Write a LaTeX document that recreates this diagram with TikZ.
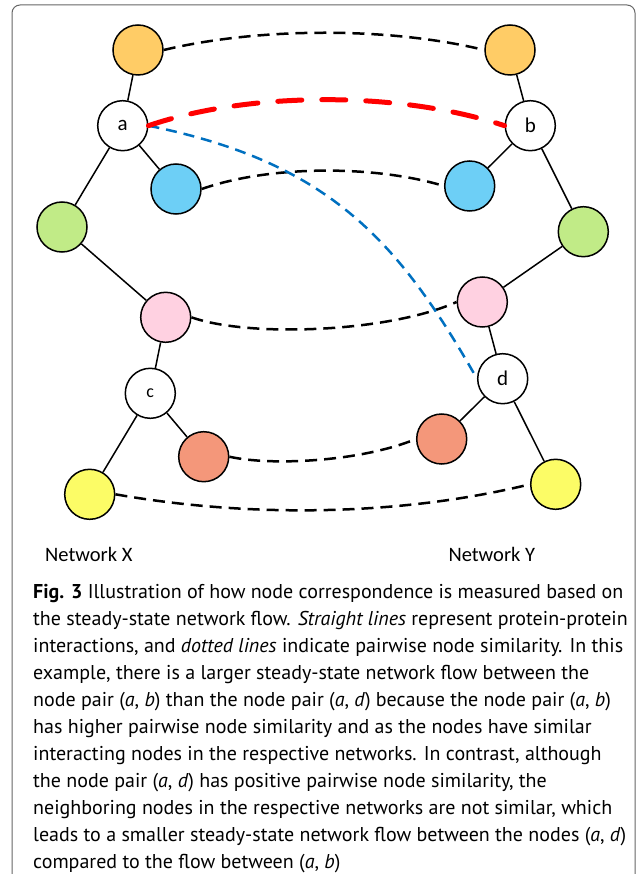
\documentclass[tikz,border=0pt]{standalone}
\usepackage{fontspec}
\setmainfont{Carlito}
\newfontfamily\capfont{PT Sans}
\definecolor{corange}{HTML}{FFCC66}
\definecolor{cblue}{HTML}{6DCFF6}
\definecolor{cgreen}{HTML}{C1EB87}
\definecolor{cpink}{HTML}{FFD1E1}
\definecolor{csalmon}{HTML}{F4977A}
\definecolor{cyellow}{HTML}{FCFC66}
\definecolor{cred}{HTML}{FF0000}
\definecolor{cdblue}{HTML}{0070C0}
\definecolor{frame}{HTML}{666666}
\begin{document}
\begin{tikzpicture}[x=1pt,y=-1pt,
  nd/.style={circle,draw=black,line width=1.5pt,minimum size=50pt,inner sep=0pt,font=\fontsize{21}{21}\selectfont},
  lk/.style={line width=1.5pt},
  sim/.style={line width=2.5pt,dash pattern=on 12pt off 7pt},
  simred/.style={cred,line width=5pt,line cap=round,dash pattern=on 24pt off 20pt},
  simblue/.style={cdblue,line width=2.5pt,dash pattern=on 11pt off 7pt},
  netlab/.style={anchor=base west,inner sep=0pt,font=\fontsize{20.5}{20.5}\selectfont},
  capline/.style={anchor=base west,inner sep=0pt,font=\capfont\fontsize{20}{27}\selectfont}]
\clip (0,0) rectangle (636,874);
\draw[frame,line width=1pt,rounded corners=8pt] (12,5) rectangle (635,910);
% left network
\node[nd,fill=corange] (lo) at (138,50) {};
\node[nd,fill=white] (a) at (122.7,125.7) {a};
\node[nd,fill=cblue] (lb) at (176,189) {};
\node[nd,fill=cgreen] (lg) at (62,227) {};
\node[nd,fill=cpink] (lp) at (165.7,317.3) {};
\node[nd,fill=white,font=\fontsize{18}{18}\selectfont] (c) at (150.3,393.3) {c};
\node[nd,fill=csalmon] (ls) at (203.7,456.7) {};
\node[nd,fill=cyellow] (ly) at (89.7,494.3) {};
% right network
\node[nd,fill=corange] (ro) at (510,50) {};
\node[nd,fill=white] (b) at (530.3,125.7) {b};
\node[nd,fill=cblue] (rb) at (469.7,186) {};
\node[nd,fill=cgreen] (rg) at (583.3,231.7) {};
\node[nd,fill=cpink] (rp) at (482.3,302) {};
\node[nd,fill=white] (d) at (502.7,378.7) {d};
\node[nd,fill=csalmon] (rs) at (441.7,439) {};
\node[nd,fill=cyellow] (ry) at (555.7,484.3) {};
% interactions
\draw[lk] (lo) -- (a);
\draw[lk] (a) -- (lb);
\draw[lk] (a) -- (lg);
\draw[lk] (lg) -- (lp);
\draw[lk] (lp) -- (c);
\draw[lk] (c) -- (ls);
\draw[lk] (c) -- (ly);
\draw[lk] (ro) -- (b);
\draw[lk] (b) -- (rb);
\draw[lk] (b) -- (rg);
\draw[lk] (rg) -- (rp);
\draw[lk] (rp) -- (d);
\draw[lk] (d) -- (rs);
\draw[lk] (d) -- (ry);
% similarities
\draw[sim] (lo.east) .. controls (260,27) and (390,27) .. (ro.west);
\draw[sim] (lb.east) .. controls (270,165) and (375,165) .. (rb.west);
\draw[sim] (lp.east) .. controls (250,338) and (390,332) .. (rp.west);
\draw[sim] (ls.east) .. controls (270,466) and (360,462) .. (rs.west);
\draw[sim] (ly.east) .. controls (250,518) and (400,516) .. (ry.west);
\draw[simblue] (a.east) .. controls (327,162) and (397,238) .. (d.west);
\draw[simred] (a.east) .. controls (250,91) and (400,91) .. (b.west);
% labels
\node[netlab] (nx) at (45,561.7) {Network X};
\node[netlab] (ny) at (448.3,561.7) {Network Y};
% caption
\node[capline] (c1) at (33,598) {\textbf{Fig. 3} Illustration of how node correspondence is measured based on};
\node[capline] (c2) at (33,625) {the steady-state network flow. \textit{Straight lines} represent protein-protein};
\node[capline] (c3) at (33,652) {interactions, and \textit{dotted lines} indicate pairwise node similarity. In this};
\node[capline] (c4) at (33,679) {example, there is a larger steady-state network flow between the};
\node[capline] (c5) at (33,706) {node pair (\textit{a}, \textit{b}) than the node pair (\textit{a}, \textit{d}) because the node pair (\textit{a}, \textit{b})};
\node[capline] (c6) at (33,733) {has higher pairwise node similarity and as the nodes have similar};
\node[capline] (c7) at (33,760) {interacting nodes in the respective networks. In contrast, although};
\node[capline] (c8) at (33,787) {the node pair (\textit{a}, \textit{d}) has positive pairwise node similarity, the};
\node[capline] (c9) at (33,814) {neighboring nodes in the respective networks are not similar, which};
\node[capline] (c10) at (33,841) {leads to a smaller steady-state network flow between the nodes (\textit{a}, \textit{d})};
\node[capline] (c11) at (33,868) {compared to the flow between (\textit{a}, \textit{b})};
\end{tikzpicture}
\end{document}
